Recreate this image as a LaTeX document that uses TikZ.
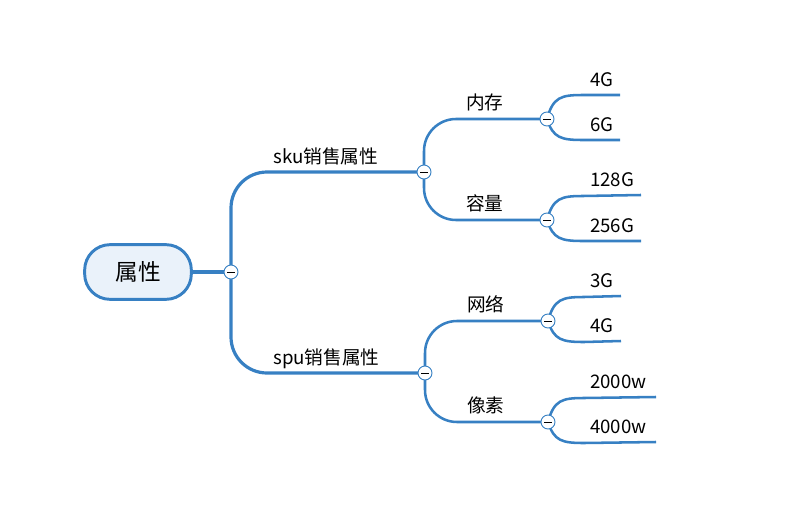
\documentclass[tikz,border=0pt]{standalone}
\usepackage{fontspec}
\setmainfont{Noto Sans CJK SC}
\usetikzlibrary{backgrounds}
\definecolor{mmblue}{RGB}{55,128,195}
\definecolor{rootfill}{RGB}{234,242,250}
\tikzset{
  rootbox/.style={draw=mmblue, fill=rootfill, line width=2.2pt, rounded corners=19pt,
    minimum width=80pt, minimum height=41pt, inner sep=0pt, font=\fontsize{17}{19}\selectfont},
  lbl/.style={anchor=base west, inner sep=0pt, font=\fontsize{14}{16}\selectfont},
  collapse/.style={circle, draw=mmblue, fill=white, line width=0.7pt, minimum size=10.5pt, inner sep=0pt,
    path picture={\draw[black, line width=0.75pt] ([xshift=-3pt]path picture bounding box.center) -- ([xshift=3pt]path picture bounding box.center);}},
  lone/.style={draw=mmblue, line width=2.4pt},
  ltwo/.style={draw=mmblue, line width=1.9pt, rounded corners=24pt},
  lthree/.style={draw=mmblue, line width=1.9pt},
}
\begin{document}
\begin{tikzpicture}[x=0.75pt, y=-0.75pt]
\useasboundingbox (0,0) rectangle (788,521);
% nodes
\node[rootbox] (root) at (138,272) {属性};
\node[collapse] (c0) at (231,272) {};
\node[collapse] (c1) at (424,172) {};
\node[collapse] (c3) at (425,373) {};
\node[collapse] (c2a) at (547,119) {};
\node[collapse] (c2b) at (547,220) {};
\node[collapse] (c4a) at (548,321) {};
\node[collapse] (c4b) at (548,422) {};
% labels
\node[lbl] (sku) at (273,163) {sku销售属性};
\node[lbl] (spu) at (273,364) {spu销售属性};
\node[lbl] (nc) at (466,109) {内存};
\node[lbl] (rl) at (466,210) {容量};
\node[lbl] (wl) at (467,311) {网络};
\node[lbl] (xs) at (467,412) {像素};
\node[lbl] (a1) at (590,86) {4G};
\node[lbl] (a2) at (590,131) {6G};
\node[lbl] (b1) at (590,186) {128G};
\node[lbl] (b2) at (590,232) {256G};
\node[lbl] (d1) at (590,287) {3G};
\node[lbl] (d2) at (590,332) {4G};
\node[lbl] (f1) at (590,388) {2000w};
\node[lbl] (f2) at (590,433) {4000w};
% free ends
\coordinate (ea1) at (620,95);
\coordinate (ea2) at (620,140);
\coordinate (eb1) at (641,195);
\coordinate (eb2) at (641,241);
\coordinate (ed1) at (621,296);
\coordinate (ed2) at (621,341);
\coordinate (ef1) at (656,397);
\coordinate (ef2) at (656,442);
\begin{scope}[on background layer]
\draw[lone] (root.east) -- (c0.center);
\draw[lone, rounded corners=27pt] (c0.center) |- (c1.center);
\draw[lone, rounded corners=27pt] (c0.center) |- (c3.center);
\draw[ltwo] (c1.center) |- (c2a.center);
\draw[ltwo] (c1.center) |- (c2b.center);
\draw[ltwo] (c3.center) |- (c4a.center);
\draw[ltwo] (c3.center) |- (c4b.center);
\foreach \c/\u/\d in {c2a/ea1/ea2, c2b/eb1/eb2, c4a/ed1/ed2, c4b/ef1/ef2}{
  \draw[lthree] (\c.center) .. controls ([shift={(6,-22)}]\c.center) and ([shift={(14,-24)}]\c.center) .. ([shift={(36,-24)}]\c.center) -- (\u);
  \draw[lthree] (\c.center) .. controls ([shift={(6,19)}]\c.center) and ([shift={(14,21)}]\c.center) .. ([shift={(36,21)}]\c.center) -- (\d);
}
\end{scope}
\end{tikzpicture}
\end{document}
